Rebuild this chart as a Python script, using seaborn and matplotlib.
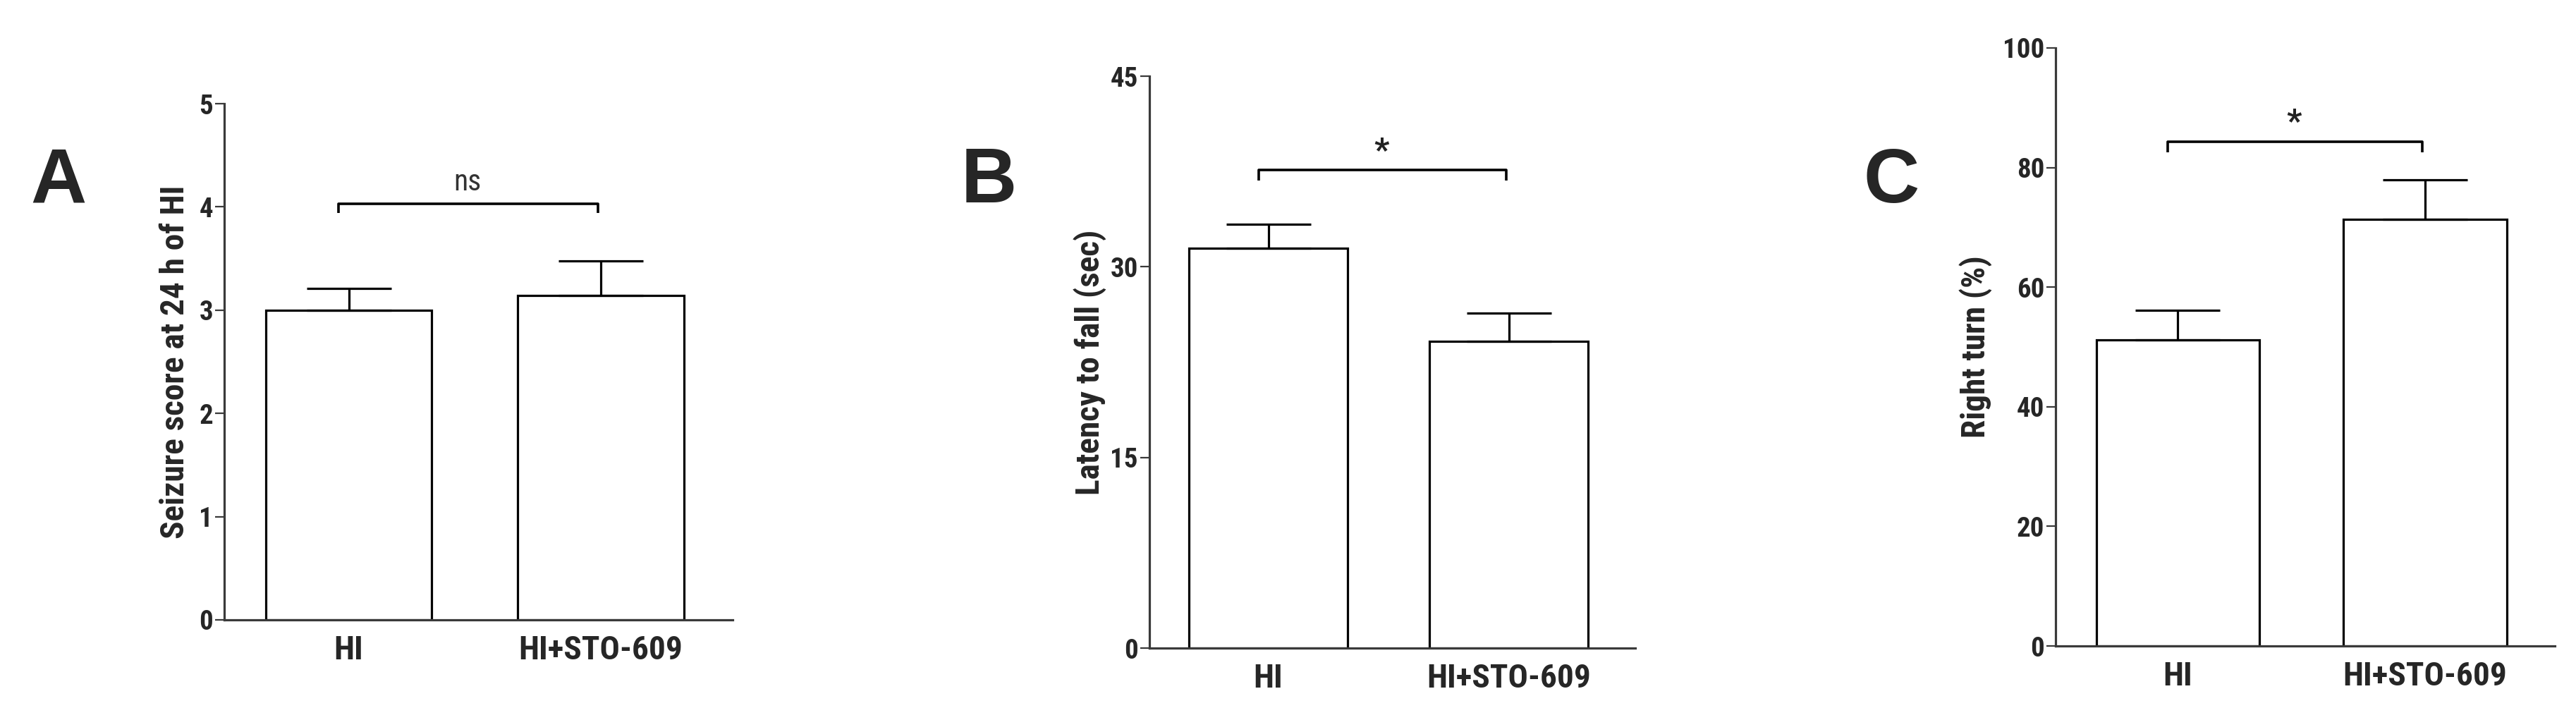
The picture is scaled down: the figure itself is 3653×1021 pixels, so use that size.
import matplotlib
matplotlib.use('Agg')
import matplotlib.pyplot as plt
import seaborn as sns
from matplotlib import font_manager

groups = ['HI', 'HI+STO-609']

seizure_mean = [3.0, 3.14]
seizure_sem = [0.21, 0.34]

latency_mean = [31.45, 24.13]
latency_sem = [1.9, 2.25]

turn_mean = [51.2, 71.3]
turn_sem = [4.9, 6.7]

panels = ['A', 'B', 'C']
ylabels = ['Seizure score at 24 h of HI', 'Latency to fall (sec)', 'Right turn (%)']
yticks = [[0, 1, 2, 3, 4, 5], [0, 15, 30, 45], [0, 20, 40, 60, 80, 100]]
sig_text = ['ns', '*', '*']
sig_y = [4.03, 37.6, 84.3]

sns.set_style('ticks')

# the reference uses a narrow Arial-like face; take a narrow one if there is one
names = {f.name for f in font_manager.fontManager.ttflist}
narrow = 'Liberation Sans'
for cand in ['Liberation Sans Narrow', 'Arial Narrow', 'Roboto Condensed',
             'Open Sans Condensed', 'Noto Sans Condensed']:
    if cand in names:
        narrow = cand
        break
plt.rcParams['font.family'] = [narrow, 'DejaVu Sans']
is_narrow = narrow != 'Liberation Sans'
k = 1.0 if is_narrow else 0.84

fig = plt.figure(figsize=(36.53, 10.21), dpi=100)

boxes = [
    [0.0871, 0.1391, 0.1974, 0.7169],
    [0.4462, 0.0999, 0.1886, 0.7943],
    [0.7980, 0.1028, 0.1938, 0.8306],
]
letter_x = [0.0227, 0.3838, 0.7342]
label_x = [-0.067, -0.089, -0.127]

means = [seizure_mean, latency_mean, turn_mean]
sems = [seizure_sem, latency_sem, turn_sem]

for i in range(3):
    ax = fig.add_axes(boxes[i])
    sns.barplot(x=groups, y=means[i], color='white', edgecolor='black',
                linewidth=2.3, width=0.66, saturation=1, errorbar=None, ax=ax)
    ax.errorbar([0, 1], means[i], yerr=[[0, 0], sems[i]], fmt='none',
                ecolor='black', elinewidth=2.3, capsize=43, capthick=2.3, zorder=3)

    ymax = yticks[i][-1]
    ax.set_ylim(0, ymax)
    ax.set_xlim(-0.494, 1.525)
    ax.set_yticks(yticks[i])
    sns.despine(ax=ax)
    for s in ['left', 'bottom']:
        ax.spines[s].set_color('#3a3a3a')
        ax.spines[s].set_linewidth(2.3)

    ax.tick_params(axis='y', length=9.5, width=1.6, color='#3a3a3a', pad=2,
                   labelsize=28 * k)
    ax.tick_params(axis='x', length=0, pad=15, labelsize=34 * k)
    for t in ax.get_xticklabels():
        t.set_fontweight('bold')
    for t in ax.get_yticklabels():
        t.set_fontweight('bold')

    ax.set_xlabel('')
    ax.set_ylabel(ylabels[i], fontsize=(34 if is_narrow else 31), fontweight='bold')
    ax.yaxis.set_label_coords(label_x[i], 0.5)

    # significance bracket
    y = sig_y[i]
    drop = ymax * 0.018
    ax.plot([-0.04, -0.04, 0.99, 0.99], [y - drop, y, y, y - drop],
            color='black', lw=2.6, clip_on=False, solid_capstyle='butt')
    if sig_text[i] == 'ns':
        ax.text(0.47, y + ymax * 0.026, 'ns', ha='center', va='baseline',
                fontsize=30, color='#333333')
    else:
        ax.text(0.47, y + ymax * 0.017, '*', ha='center', va='baseline',
                fontsize=34, fontweight='bold', color='#222222')

    fig.text(letter_x[i], 0.719, panels[i], ha='center', va='baseline',
             fontsize=79, fontweight='bold', family=['Liberation Sans', 'DejaVu Sans'])

fig.savefig('out.png', dpi=100, facecolor='white')
